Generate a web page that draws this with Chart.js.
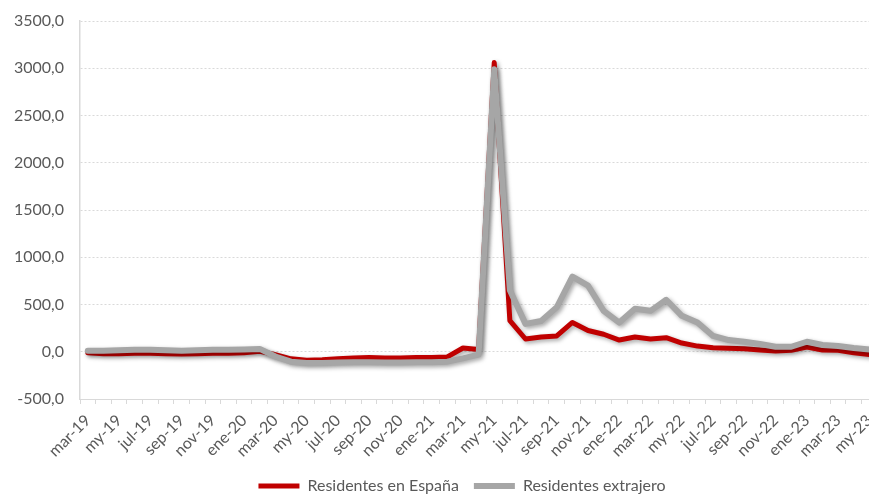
<!DOCTYPE html>
<html lang="es">
<head>
<meta charset="utf-8">
<title>Residentes en España y extranjero</title>
<script src="https://cdn.jsdelivr.net/npm/chart.js@4/dist/chart.umd.min.js"></script>
<style>
  html, body { margin: 0; padding: 0; background: #fff; overflow: hidden; }
  #wrap { position: relative; width: 890px; height: 495px; }
</style>
</head>
<body>
<div id="wrap"><canvas id="grafico"></canvas></div>
<script>
// meses de mar-19 a my-23
const meses = [
  'mar-19', 'abr-19', 'my-19', 'jun-19', 'jul-19', 'ago-19', 'sep-19', 'oct-19', 'nov-19', 'dic-19',
  'ene-20', 'feb-20', 'mar-20', 'abr-20', 'my-20', 'jun-20', 'jul-20', 'ago-20', 'sep-20', 'oct-20', 'nov-20', 'dic-20',
  'ene-21', 'feb-21', 'mar-21', 'abr-21', 'my-21', 'jun-21', 'jul-21', 'ago-21', 'sep-21', 'oct-21', 'nov-21', 'dic-21',
  'ene-22', 'feb-22', 'mar-22', 'abr-22', 'my-22', 'jun-22', 'jul-22', 'ago-22', 'sep-22', 'oct-22', 'nov-22', 'dic-22',
  'ene-23', 'feb-23', 'mar-23', 'abr-23', 'my-23'
];

const residentesEspana = [
  -10, -20, -20, -15, -15, -20, -25, -20, -15, -15,
  -10, 5, -30, -75, -90, -85, -75, -65, -60, -65, -65, -60,
  -60, -55, 40, 25, 3060, 330, 135, 155, 167, 310, 225, 185,
  124, 156, 135, 149, 92, 60, 43, 37, 32, 18, 7, 15,
  50, 18, 15, -10, -30
];

const residentesExtranjero = [
  10, 10, 15, 20, 20, 15, 10, 15, 20, 20,
  25, 30, -50, -105, -120, -120, -115, -110, -110, -115, -115, -110,
  -110, -105, -70, -30, 2990, 650, 295, 325, 470, 795, 700, 433,
  309, 454, 433, 550, 380, 309, 167, 124, 106, 82, 53, 53,
  106, 71, 60, 40, 25
];

const yMin = -500;
const yMax = 3500;
const yPaso = 500;

Chart.defaults.font.family = 'Lato';
Chart.defaults.font.size = 16;
Chart.defaults.color = '#595959';

// sombra suave bajo las lineas, como en el original
const sombra = {
  id: 'sombra',
  beforeDatasetDraw(chart) {
    const c = chart.ctx;
    c.save();
    c.shadowColor = 'rgba(0, 0, 0, 0.35)';
    c.shadowBlur = 4;
    c.shadowOffsetX = 2;
    c.shadowOffsetY = 2;
  },
  afterDatasetDraw(chart) {
    chart.ctx.restore();
  }
};

// la leyenda del original esta algo desplazada a la derecha
const moverLeyenda = {
  id: 'moverLeyenda',
  afterLayout(chart) {
    chart.legend.left += 19;
    chart.legend.right += 19;
  }
};

const ctx = document.getElementById('grafico').getContext('2d');

new Chart(ctx, {
  type: 'line',
  data: {
    labels: meses,
    datasets: [
      {
        label: 'Residentes en España',
        data: residentesEspana,
        borderColor: '#C00000',
        backgroundColor: '#C00000',
        borderWidth: 5,
        pointRadius: 0,
        tension: 0,
        borderCapStyle: 'round',
        borderJoinStyle: 'round',
        order: 1
      },
      {
        label: 'Residentes extrajero',
        data: residentesExtranjero,
        borderColor: '#A6A6A6',
        backgroundColor: '#A6A6A6',
        borderWidth: 6,
        pointRadius: 0,
        tension: 0,
        borderCapStyle: 'round',
        borderJoinStyle: 'round',
        order: 0
      }
    ]
  },
  options: {
    responsive: true,
    maintainAspectRatio: false,
    animation: false,
    layout: { padding: { left: 0, right: 4, top: 21, bottom: -9 } },
    plugins: {
      tooltip: { enabled: false },
      legend: {
        position: 'bottom',
        labels: {
          usePointStyle: true,
          pointStyle: 'line',
          pointStyleWidth: 41,
          padding: 15,
          sort: (a, b) => a.datasetIndex - b.datasetIndex
        }
      }
    },
    scales: {
      x: {
        offset: true,
        afterFit: scale => { scale.height = 64; },
        grid: { offset: true, drawOnChartArea: false, color: '#d9d9d9', tickLength: 5 },
        border: { color: '#d9d9d9', width: 1 },
        ticks: {
          autoSkip: false,
          minRotation: 45,
          maxRotation: 45,
          padding: 7,
          callback: function (v, i) { return i % 2 === 0 ? this.getLabelForValue(v) : ''; }
        }
      },
      y: {
        min: yMin,
        max: yMax,
        afterFit: scale => {
          scale.width = 80;
          scale.paddingTop = 0;
          scale.paddingBottom = 0;
        },
        grid: { color: '#d9d9d9', drawTicks: false },
        border: { color: '#d9d9d9', width: 1.5, dash: [2, 2] },
        ticks: {
          stepSize: yPaso,
          padding: 16,
          callback: v => v.toFixed(1).replace('.', ',')
        }
      }
    }
  },
  plugins: [sombra, moverLeyenda]
});
</script>
</body>
</html>
